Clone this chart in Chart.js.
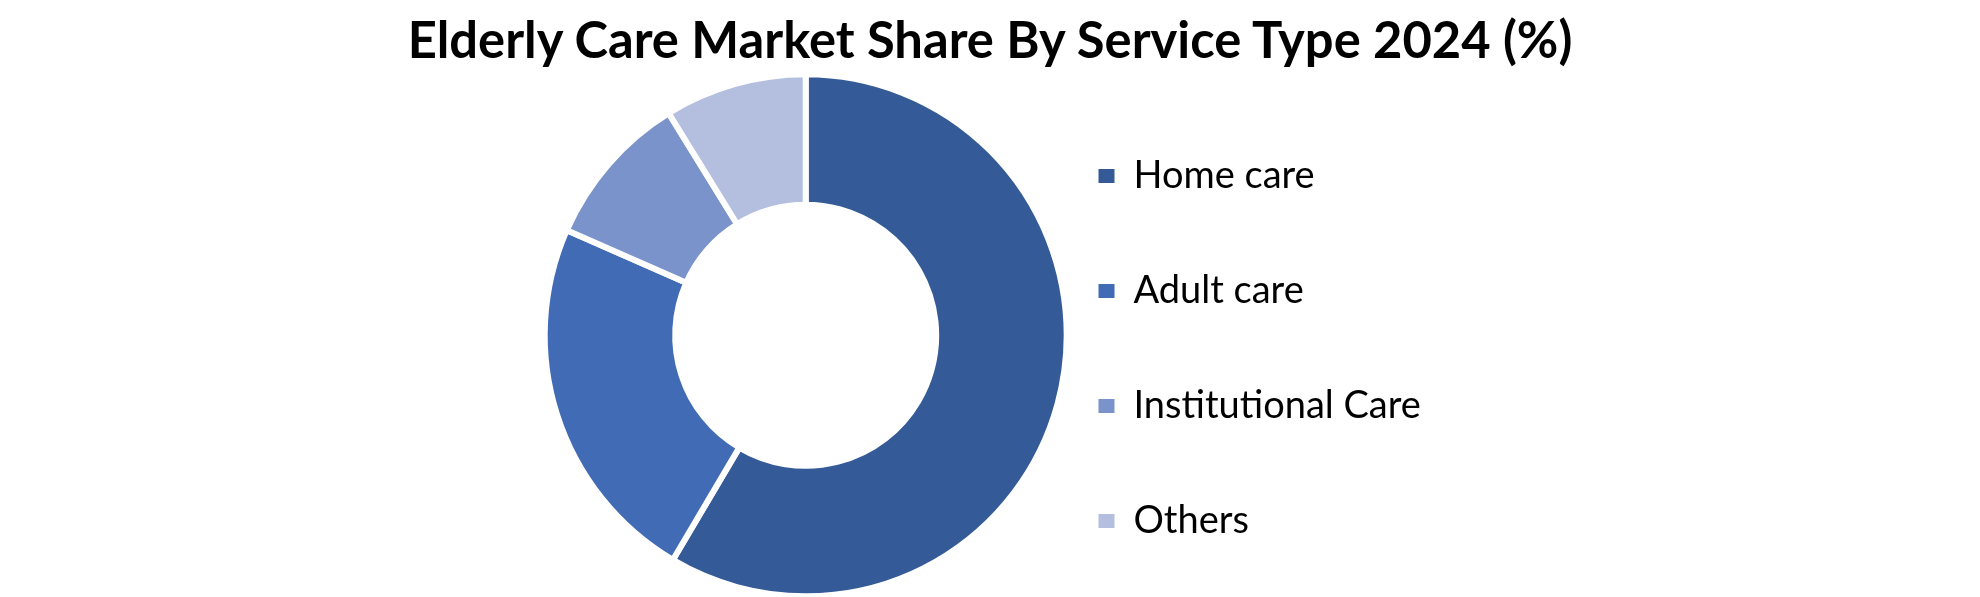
<!DOCTYPE html>
<html>
<head>
<meta charset="utf-8">
<title>Elderly Care Market Share By Service Type 2024 (%)</title>
<script src="https://cdn.jsdelivr.net/npm/chart.js@4.4.1/dist/chart.umd.min.js"></script>
<style>
  html, body { margin: 0; padding: 0; background: #fff; }
  #wrap { position: relative; width: 1980px; height: 597px; overflow: hidden; }
  #title {
    position: absolute; left: 0; top: 14px; width: 1980px;
    text-align: center; font: bold 50.7px Lato, sans-serif; line-height: 1; color: #000;
  }
  #chart { position: absolute; left: 0; top: 0; }
</style>
</head>
<body>
<div id="wrap">
  <canvas id="chart" width="1980" height="597"></canvas>
  <div id="title">Elderly Care Market Share By Service Type 2024 (%)</div>
</div>
<script>
'use strict';

const labels = ['Home care', 'Adult care', 'Institutional Care', 'Others'];
const shares = [58.5, 23.1, 9.6, 8.8];
const colors = ['#345A97', '#416BB5', '#7A93CB', '#B4BFDF'];

const LEGEND_FONT = 38;
const BOX_W = 16;
const ROW_PAD = 77;   // row pitch = font size + padding = 115px

// widest legend label, so the legend lands where the reference has it
const mctx = document.createElement('canvas').getContext('2d');
mctx.font = LEGEND_FONT + 'px Lato';
const widest = Math.max(...labels.map(l => mctx.measureText(l).width));
const legendLeft = 1021.5;
// chart.js adds 10px to a vertical legend's width
const legendWidth = ROW_PAD + BOX_W + LEGEND_FONT / 2 + widest + 10;
const padRight = 1980 - legendLeft - legendWidth;

new Chart(document.getElementById('chart'), {
  type: 'doughnut',
  data: {
    labels,
    datasets: [{
      data: shares,
      backgroundColor: colors,
      borderColor: '#fff',
      borderWidth: 6,
      hoverOffset: 0,
      clip: false,
    }],
  },
  options: {
    responsive: false,
    animation: false,
    radius: 261,
    cutout: '50%',
    layout: { padding: { left: 589.9, right: padRight, top: 73.6, bottom: -20 } },
    plugins: {
      title: { display: false },
      tooltip: { enabled: false },
      legend: {
        position: 'right',
        align: 'end',
        maxWidth: 900,
        labels: {
          color: '#000',
          boxWidth: BOX_W,
          boxHeight: 14,
          padding: ROW_PAD,
          font: { family: 'Lato', size: LEGEND_FONT },
          generateLabels: chart =>
            Chart.overrides.doughnut.plugins.legend.labels.generateLabels(chart)
              .map(it => ({ ...it, lineWidth: 0, strokeStyle: it.fillStyle })),
        },
      },
    },
  },
});
</script>
</body>
</html>
